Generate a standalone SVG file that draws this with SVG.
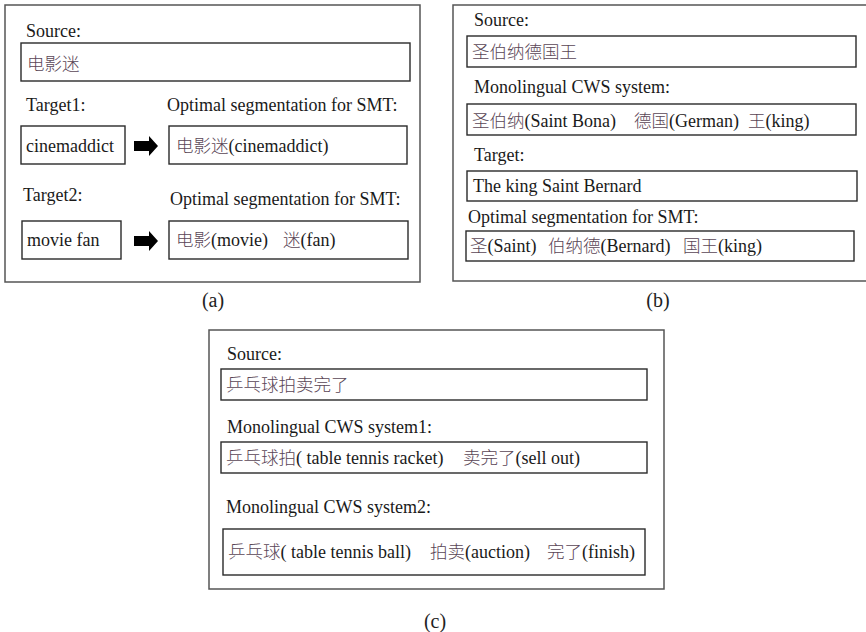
<svg xmlns="http://www.w3.org/2000/svg" width="866" height="632" viewBox="0 0 866 632">
  <style>
    .frame { fill: #fff; stroke: #555; stroke-width: 1.5; }
    .box { fill: #fff; stroke: #2a2a2a; stroke-width: 1.4; }
    .t { font-family: "Liberation Serif", "Noto Sans CJK SC", serif; font-size: 18px; fill: #1a1a1a; }
    .zh { font-family: "Noto Sans CJK SC", "Liberation Serif", sans-serif; fill: #5a4656; font-weight: 300; font-size: 17.5px; }
    .cap { font-family: "Liberation Serif", serif; font-size: 20px; fill: #222; text-anchor: middle; }
    .arrow { fill: #000; }
  </style>
  <rect width="866" height="632" fill="#fff"/>

  <!-- panel (a) -->
  <g id="panel-a">
    <rect class="frame" x="5" y="5" width="415" height="277"/>
    <text class="t" x="26" y="37">Source:</text>
    <g id="a-source">
      <rect class="box" x="21" y="43" width="389" height="38"/>
      <text class="t zh" x="27" y="70">电影迷</text>
    </g>
    <text class="t" x="26" y="111">Target1:</text>
    <text class="t" x="167" y="111">Optimal segmentation for SMT:</text>
    <g id="a-target1">
      <rect class="box" x="21" y="126" width="104" height="38"/>
      <text class="t" x="26" y="152">cinemaddict</text>
    </g>
    <g id="a-seg1">
      <rect class="box" x="169" y="126" width="238" height="38"/>
      <text class="t" x="176" y="152"><tspan class="zh">电影迷</tspan>(cinemaddict)</text>
    </g>
    <text class="t" x="23" y="201">Target2:</text>
    <text class="t" x="170" y="205">Optimal segmentation for SMT:</text>
    <g id="a-target2">
      <rect class="box" x="22" y="221" width="99" height="38"/>
      <text class="t" x="27" y="246">movie fan</text>
    </g>
    <g id="a-seg2">
      <rect class="box" x="169" y="221" width="239" height="38"/>
      <text class="t" x="176" y="246"><tspan class="zh">电影</tspan>(movie)<tspan class="zh" x="283">迷</tspan>(fan)</text>
    </g>
    <text class="cap" x="213" y="307">(a)</text>
  </g>

  <!-- block arrows between target and segmentation -->
  <g id="connectors">
    <path class="arrow" d="M134,141 H149 V136 L158,146 L149,156 V151 H134 Z"/>
    <path class="arrow" d="M134,236 H149 V231 L158,241 L149,251 V246 H134 Z"/>
  </g>

  <!-- panel (b) -->
  <g id="panel-b">
    <rect class="frame" x="453" y="5" width="416" height="276"/>
    <text class="t" x="474" y="26">Source:</text>
    <g id="b-source">
      <rect class="box" x="467" y="36" width="389" height="31"/>
      <text class="t zh" x="472" y="58">圣伯纳德国王</text>
    </g>
    <text class="t" x="474" y="93">Monolingual CWS system:</text>
    <g id="b-cws">
      <rect class="box" x="467" y="104" width="389" height="31"/>
      <text class="t" x="472" y="127"><tspan class="zh">圣伯纳</tspan>(Saint Bona)<tspan class="zh" x="634">德国</tspan>(German)<tspan class="zh" x="748">王</tspan>(king)</text>
    </g>
    <text class="t" x="474" y="161">Target:</text>
    <g id="b-target">
      <rect class="box" x="467" y="171" width="390" height="30"/>
      <text class="t" x="473" y="192">The king Saint Bernard</text>
    </g>
    <text class="t" x="468" y="223">Optimal segmentation for SMT:</text>
    <g id="b-seg">
      <rect class="box" x="466" y="231" width="388" height="30"/>
      <text class="t" x="470" y="252"><tspan class="zh">圣</tspan>(Saint)<tspan class="zh" x="548">伯纳德</tspan>(Bernard)<tspan class="zh" x="683">国王</tspan>(king)</text>
    </g>
    <text class="cap" x="658" y="307">(b)</text>
  </g>

  <!-- panel (c) -->
  <g id="panel-c">
    <rect class="frame" x="209" y="330" width="455" height="259"/>
    <text class="t" x="227" y="360">Source:</text>
    <g id="c-source">
      <rect class="box" x="221" y="369" width="426" height="31"/>
      <text class="t zh" x="226" y="391">乒乓球拍卖完了</text>
    </g>
    <text class="t" x="227" y="433">Monolingual CWS system1:</text>
    <g id="c-cws1">
      <rect class="box" x="221" y="442" width="426" height="31"/>
      <text class="t" x="226" y="464"><tspan class="zh">乒乓球拍</tspan>( table tennis racket)<tspan class="zh" x="463">卖完了</tspan>(sell out)</text>
    </g>
    <text class="t" x="226" y="513">Monolingual CWS system2:</text>
    <g id="c-cws2">
      <rect class="box" x="223" y="529" width="422" height="46"/>
      <text class="t" x="228" y="558"><tspan class="zh">乒乓球</tspan>( table tennis ball)<tspan class="zh" x="430">拍卖</tspan>(auction)<tspan class="zh" x="547">完了</tspan>(finish)</text>
    </g>
    <text class="cap" x="435" y="628">(c)</text>
  </g>
</svg>
